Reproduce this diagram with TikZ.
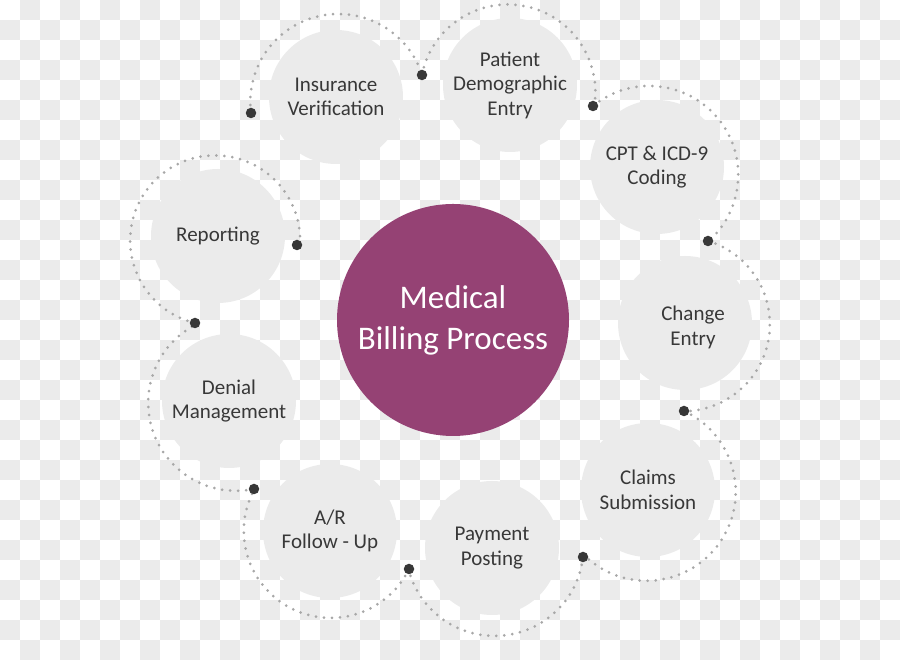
\documentclass[tikz,border=0pt]{standalone}
\usepackage{fontspec}
\setmainfont{Carlito}
\definecolor{checker}{HTML}{EBEBEB}
\definecolor{plum}{HTML}{954274}
\definecolor{ink}{HTML}{383838}
\definecolor{trailgray}{HTML}{A8A8A8}
\definecolor{knobgray}{HTML}{383838}
\begin{document}
\begin{tikzpicture}[
		x=1pt, y=1pt,
		stage/.style={circle, fill=checker, minimum size=134pt, inner sep=0pt, align=center, text=ink, font=\fontsize{21}{24.5}\selectfont},
		hub/.style={circle, fill=plum, minimum size=232pt, inner sep=0pt, align=center, text=white, font=\fontsize{33}{41}\selectfont},
		knob/.style={circle, fill=knobgray, minimum size=10.5pt, inner sep=0pt},
		trail/.style={draw=trailgray, line width=3pt, line cap=round, dash pattern=on 0pt off 8pt}
		]
		% Checkered backdrop
		\useasboundingbox (0,0) rectangle (900,660);
		\foreach \i in {0,...,44}
			\foreach \j in {0,...,32} {
				\pgfmathtruncatemacro\parity{mod(\i+\j,2)}
				\ifnum\parity=1 \fill[checker] (20*\i,640-20*\j) rectangle ++(20,20); \fi
			}
		% Centre
		\node[hub] (main) at (453,340) {Medical\\Billing Process};
		% Process steps, clockwise
		\node[stage] (ins) at (336,563) {Insurance\\Verification};
		\node[stage] (pat) at (510,575) {Patient\\Demographic\\Entry};
		\node[stage] (cpt) at (657,493) {CPT \& ICD-9\\Coding};
		\node[stage] (chg) at (685,337) {\hspace*{16pt}\raisebox{-5pt}[\height][\depth]{\begin{tabular}{@{}c@{}}Change\\Entry\end{tabular}}};
		\node[stage] (clm) at (648,170) {Claims\\Submission};
		\node[stage] (pay) at (492,112) {Payment\\Posting};
		\node[stage] (ar) at (330,129) {A/R\\Follow - Up};
		\node[stage] (den) at (229,259) {Denial\\Management};
		\node[stage] (rep) at (218,424) {Reporting};
		% Joints of the dotted trail
		\coordinate (k1) at (422,585);
		\coordinate (k2) at (593,554);
		\coordinate (k3) at (708,419);
		\coordinate (k4) at (684,249);
		\coordinate (k5) at (583,103);
		\coordinate (k6) at (409,91);
		\coordinate (k7) at (254,171);
		\coordinate (k8) at (195,337);
		\coordinate (k9) at (297,415);
		\coordinate (k10) at (251,547);
		% Dotted trail round each step
		\foreach \from/\a/\b/\r in {k10/187.2/17.8/88, k1/168.8/-9.4/87.5, k2/129.2/-48.3/89,
				k3/73.2/-89.3/87, k4/65.2/-134.1/89, k5/-6.5/-165.7/89,
				k6/-26/-208.6/87, k7/-78.3/-242.6/88, k8/256.3/-5.6/85}
			\draw[trail] (\from) arc[start angle=\a, end angle=\b, radius=\r];
		\foreach \n in {1,...,10}
			\node[knob] at (k\n) {};
	\end{tikzpicture}
\end{document}
